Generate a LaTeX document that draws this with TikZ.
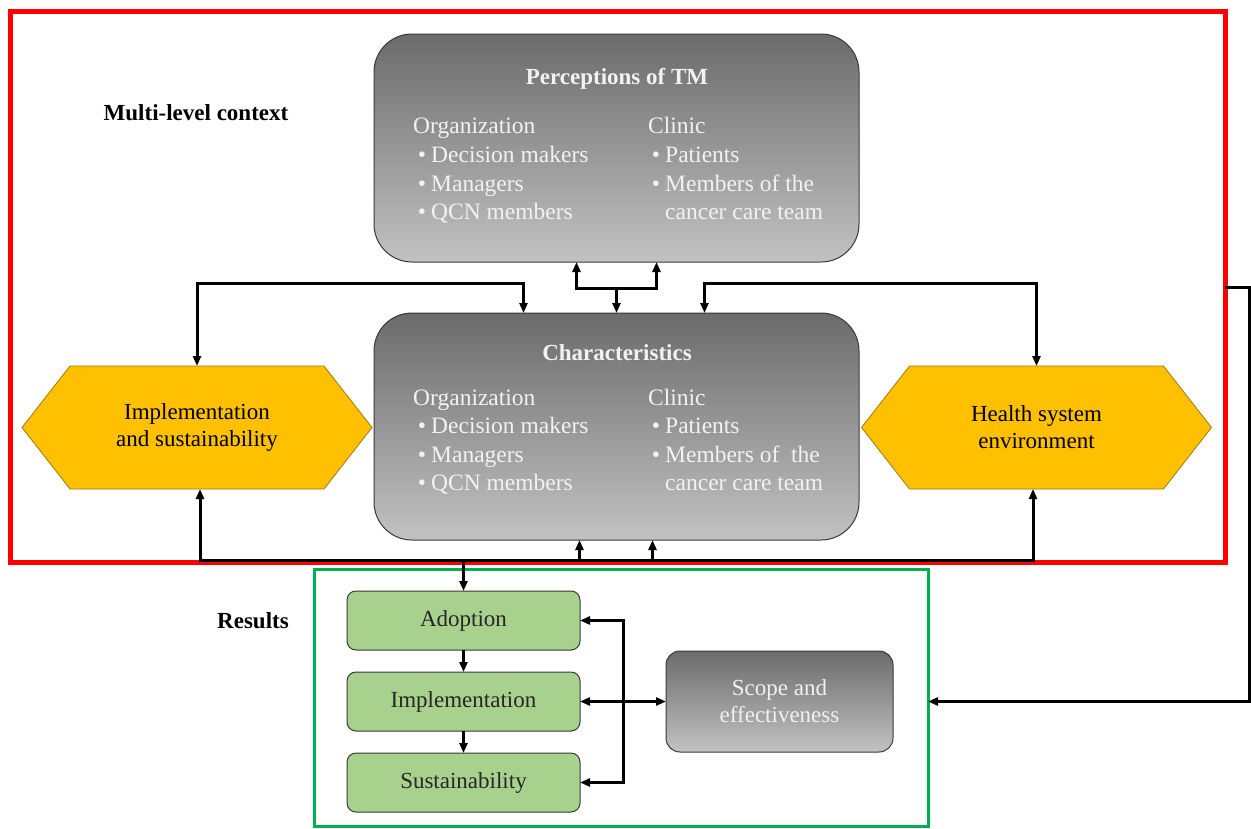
\documentclass[tikz,border=0pt]{standalone}
\usepackage{fontspec}
\setmainfont{Liberation Serif}
\usetikzlibrary{arrows.meta,calc}
\definecolor{ctxred}{HTML}{FF0000}
\definecolor{resgreen}{HTML}{00B050}
\definecolor{hexfillc}{HTML}{FFC000}
\definecolor{hexdraw}{HTML}{9C7A12}
\definecolor{greenfill}{HTML}{A9D18E}
\definecolor{topgray}{HTML}{6B6B6B}
\definecolor{botgray}{HTML}{C2C2C2}
\definecolor{boxline}{HTML}{3A3A3A}
\newcommand\bul{\llap{\textbullet\hspace{5pt}}}
\begin{document}
\begin{tikzpicture}[x=1pt,y=-1pt,
  conn/.style={line width=3pt, draw=black},
  >={Triangle[length=10pt,width=8pt]},
  graybox/.style={draw=boxline, line width=1pt, top color=topgray, bottom color=botgray, rounded corners=38pt, minimum width=485pt, minimum height=228pt, inner sep=0pt, outer sep=0pt},
  greenbox/.style={draw=boxline, line width=1pt, fill=greenfill, rounded corners=9pt, minimum width=233pt, minimum height=59pt, inner sep=0pt, outer sep=0pt, font=\fontsize{23}{27}\selectfont, text=black!85},
  scopebox/.style={draw=boxline, line width=1pt, top color=topgray, bottom color=botgray, rounded corners=14pt, minimum width=227pt, minimum height=101pt, inner sep=0pt, outer sep=0pt, align=center, font=\fontsize{23}{27}\selectfont, text=white!94!black},
  hexframe/.style={minimum width=350pt, minimum height=123pt, inner sep=0pt, outer sep=0pt},
  hexshape/.style={draw=hexdraw, line width=0.8pt, fill=hexfillc},
  hextext/.style={align=center, font=\fontsize{23}{27}\selectfont, text=black, inner sep=0pt},
  wtxt/.style={inner sep=0pt, anchor=base west, font=\fontsize{23.5}{27}\selectfont, text=white!95!black},
  wtitle/.style={inner sep=0pt, anchor=base, font=\fontsize{23}{27}\selectfont\bfseries, text=white!95!black},
  lbl/.style={inner sep=0pt, font=\fontsize{23}{25}\selectfont\bfseries, text=black}
]
\useasboundingbox (0,0) rectangle (1251,828);
\fill[white] (0,0) rectangle (1251,828);

% frames
\node[draw=ctxred, line width=5pt, minimum width=1215pt, minimum height=551pt, inner sep=0pt, outer sep=0pt] (ctx) at (617.5,286.5) {};
\node[draw=resgreen, line width=3pt, minimum width=614pt, minimum height=257pt, inner sep=0pt, outer sep=0pt] (res) at (621,697.5) {};

\node[lbl] (mlc) at (196,113) {Multi-level context};
\node[lbl] (reslbl) at (253,621) {Results};

% Perceptions box
\node[graybox] (perc) at (616.5,148) {};
\node[wtitle] (percT) at (617,84) {Perceptions of TM};
\node[wtxt] (p1) at (413,133) {Organization};
\node[wtxt] (p2) at (431,162) {\bul Decision makers};
\node[wtxt] (p3) at (431,191) {\bul Managers};
\node[wtxt] (p4) at (431,219) {\bul QCN members};
\node[wtxt] (p5) at (648,133) {Clinic};
\node[wtxt] (p6) at (665,162) {\bul Patients};
\node[wtxt] (p7) at (665,191) {\bul Members of the};
\node[wtxt] (p8) at (665,219) {cancer care team};

% Characteristics box
\node[graybox, minimum height=227pt] (char) at (616.5,426.5) {};
\node[wtitle] (charT) at (617,360) {Characteristics};
\node[wtxt] (c1) at (413,405) {Organization};
\node[wtxt] (c2) at (431,433) {\bul Decision makers};
\node[wtxt] (c3) at (431,462) {\bul Managers};
\node[wtxt] (c4) at (431,490) {\bul QCN members};
\node[wtxt] (c5) at (648,405) {Clinic};
\node[wtxt] (c6) at (665,433) {\bul Patients};
\node[wtxt] (c7) at (665,462) {\bul Members of \ the};
\node[wtxt] (c8) at (665,490) {cancer care team};

% hexagons
\node[hexframe] (hexL) at (197,427.5) {};
\draw[hexshape] (hexL.west) -- ([xshift=48pt]hexL.north west) -- ([xshift=-48pt]hexL.north east) -- (hexL.east) -- ([xshift=-48pt]hexL.south east) -- ([xshift=48pt]hexL.south west) -- cycle;
\node[hextext] (hexLt) at (hexL.center) {Implementation\\and sustainability};

\node[hexframe] (hexR) at (1036.5,427.5) {};
\draw[hexshape] (hexR.west) -- ([xshift=48pt]hexR.north west) -- ([xshift=-48pt]hexR.north east) -- (hexR.east) -- ([xshift=-48pt]hexR.south east) -- ([xshift=48pt]hexR.south west) -- cycle;
\node[hextext] (hexRt) at (hexR.center) {Health system\\environment};

% results boxes
\node[greenbox] (adopt) at (463.5,620.5) {Adoption};
\node[greenbox] (impl) at (463.5,701.5) {Implementation};
\node[greenbox] (sust) at (463.5,782.5) {Sustainability};
\node[scopebox] (scope) at (779.5,701.5) {Scope and\\effectiveness};

% connectors top
\coordinate (tj) at ($(char.north)+(0,-25)$);
\draw[conn,->] (tj) -- (char.north);
\draw[conn,<->] ([xshift=-40pt]perc.south) |- ([xshift=40pt]tj) -- ([xshift=40pt]perc.south);
\draw[conn,<->] (hexL.north) -- ++(0,-83) -| ([xshift=-93pt]char.north);
\draw[conn,<->] (hexR.north) -- ++(0,-83) -| ([xshift=88pt]char.north);

% connectors bottom
\coordinate (busL) at (200,560);
\coordinate (busR) at (1033,560);
\draw[conn,<->] (busL |- hexL.south) -- (busL) -- (busR) -- (busR |- hexR.south);
\draw[conn,->] ([xshift=-37pt]char.south |- busL) -- ([xshift=-37pt]char.south);
\draw[conn,->] ([xshift=36pt]char.south |- busL) -- ([xshift=36pt]char.south);
\draw[conn,->] (adopt.north |- busL) -- (adopt.north);

% results connectors
\draw[conn,->] (adopt) -- (impl);
\draw[conn,->] (impl) -- (sust);
\draw[conn,<->] (adopt.east) -- ++(43,0) |- (sust.east);
\draw[conn,<->] (impl.east) -- (scope.west);

% feedback
\draw[conn,->] (ctx.east |- 0,287) -- (1249.5,287) |- (res.east |- scope.west);
\end{tikzpicture}
\end{document}
